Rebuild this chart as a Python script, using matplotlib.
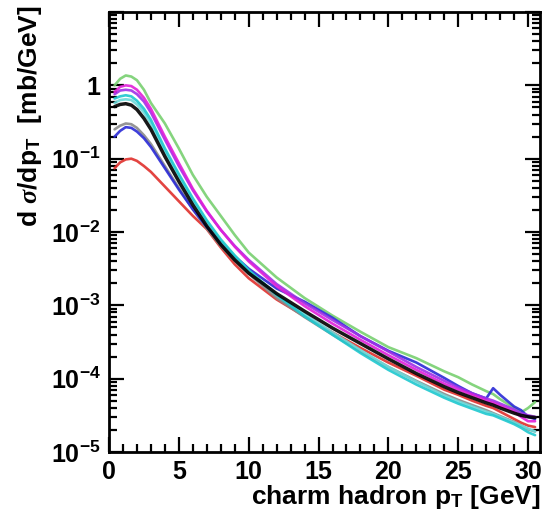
import numpy as np
import matplotlib
matplotlib.use('Agg')
import matplotlib.pyplot as plt
from matplotlib.ticker import FixedLocator, MultipleLocator, LogLocator, NullFormatter, FuncFormatter

plt.rcParams['font.family'] = ['Liberation Sans', 'DejaVu Sans']
plt.rcParams['font.weight'] = 'bold'
plt.rcParams['mathtext.fontset'] = 'custom'
plt.rcParams['mathtext.rm'] = 'Liberation Sans:bold'
plt.rcParams['mathtext.bf'] = 'Liberation Sans:bold'
plt.rcParams['mathtext.it'] = 'Liberation Serif:italic'

# charm hadron pT (GeV)
pt = [0.4, 0.8, 1.2, 1.6, 2.0, 2.5, 3, 4, 5, 6, 7, 8, 9, 10, 12, 14, 16, 18, 20,
      22, 24, 25, 26, 27, 27.5, 28, 29, 29.5, 30, 30.5]

# log10 of dsigma/dpT [mb/GeV]
green_log = [0.0, 0.09, 0.135, 0.12, 0.07, -0.06, -0.24, -0.52, -0.86, -1.22, -1.52, -1.78, -2.04, -2.28,
             -2.62, -2.9, -3.14, -3.36, -3.57, -3.72, -3.9, -3.98, -4.08, -4.17, -4.21, -4.28, -4.4,
             -4.46, -4.4, -4.32]
magenta_log = [-0.09, -0.02, 0.0, -0.01, -0.06, -0.17, -0.32, -0.7, -1.06, -1.41, -1.71, -1.97, -2.2,
               -2.4, -2.74, -3.01, -3.25, -3.47, -3.68, -3.88, -4.07, -4.15, -4.22, -4.3, -4.33, -4.37,
               -4.45, -4.52, -4.58, -4.58]
violet_log = [-0.12, -0.07, -0.06, -0.07, -0.12, -0.22, -0.37, -0.74, -1.1, -1.43, -1.72, -1.97, -2.19,
              -2.38, -2.71, -2.97, -3.2, -3.42, -3.63, -3.84, -4.03, -4.12, -4.2, -4.27, -4.3, -4.34,
              -4.42, -4.47, -4.5, -4.52]
cyan_log = [-0.18, -0.15, -0.135, -0.15, -0.21, -0.32, -0.47, -0.86, -1.21, -1.54, -1.84, -2.1, -2.32,
            -2.52, -2.86, -3.15, -3.4, -3.65, -3.88, -4.08, -4.26, -4.34, -4.41, -4.48, -4.5, -4.54,
            -4.62, -4.67, -4.73, -4.77]
teal_log = [-0.24, -0.2, -0.19, -0.2, -0.26, -0.37, -0.52, -0.9, -1.24, -1.57, -1.86, -2.12, -2.33,
            -2.53, -2.85, -3.12, -3.37, -3.61, -3.84, -4.04, -4.23, -4.31, -4.38, -4.45, -4.48, -4.52,
            -4.6, -4.64, -4.68, -4.72]
black_log = [-0.29, -0.26, -0.25, -0.27, -0.33, -0.45, -0.6, -0.97, -1.31, -1.63, -1.92, -2.17, -2.38,
             -2.56, -2.84, -3.08, -3.31, -3.52, -3.73, -3.93, -4.11, -4.19, -4.26, -4.33, -4.36, -4.4,
             -4.47, -4.5, -4.52, -4.53]
grey_log = [-0.6, -0.55, -0.52, -0.53, -0.58, -0.68, -0.8, -1.1, -1.4, -1.69, -1.95, -2.19, -2.39,
            -2.57, -2.9, -3.16, -3.4, -3.63, -3.84, -4.03, -4.21, -4.29, -4.36, -4.43, -4.47, -4.51,
            -4.59, -4.64, -4.69, -4.72]
blue_log = [-0.7, -0.62, -0.57, -0.58, -0.63, -0.72, -0.84, -1.13, -1.42, -1.69, -1.93, -2.14, -2.33,
            -2.5, -2.77, -2.95, -3.17, -3.42, -3.62, -3.78, -3.99, -4.1, -4.2, -4.27, -4.13, -4.22,
            -4.38, -4.43, -4.52, -4.55]
red_log = [-1.13, -1.05, -1.01, -1.0, -1.03, -1.1, -1.18, -1.38, -1.58, -1.78, -1.96, -2.21, -2.44,
           -2.63, -2.92, -3.15, -3.37, -3.58, -3.78, -3.96, -4.15, -4.22, -4.3, -4.37, -4.4, -4.45,
           -4.55, -4.6, -4.64, -4.66]

curves = [
    (green_log, '#78d070', 1.9),
    (red_log, '#e0302c', 1.9),
    (grey_log, '#8a8a8a', 1.9),
    (blue_log, '#2a2ad6', 1.9),
    (teal_log, '#6cdada', 1.9),
    (cyan_log, '#1ec8cf', 1.9),
    (violet_log, '#a030e8', 1.9),
    (magenta_log, '#e020d8', 1.9),
    (black_log, '#000000', 2.5),
]

fig = plt.figure(figsize=(5.45, 5.14), dpi=100)
ax = fig.add_axes([0.2, 0.1206, 0.791, 0.856])

for vals, col, lw in curves:
    ax.plot(pt, 10.0 ** np.array(vals), color=col, lw=lw, alpha=0.9, solid_capstyle='round')

ax.set_yscale('log')
ax.set_xlim(0, 30.86)
ax.set_ylim(1e-5, 10)

ax.xaxis.set_major_locator(MultipleLocator(5))
ax.xaxis.set_minor_locator(MultipleLocator(1))
ax.yaxis.set_major_locator(FixedLocator([1e-5, 1e-4, 1e-3, 1e-2, 1e-1, 1, 10]))
ax.yaxis.set_minor_locator(LogLocator(base=10, subs=np.arange(2, 10), numticks=20))
ax.yaxis.set_minor_formatter(NullFormatter())


def ylab(v, pos):
    if v >= 10:
        return ''
    if abs(v - 1) < 1e-9:
        return '1'
    e = int(round(np.log10(v)))
    return r'$\mathbf{10^{%d}}$' % e


ax.yaxis.set_major_formatter(FuncFormatter(ylab))

ax.tick_params(which='both', direction='in', top=True, right=True, width=1.6, labelsize=18)
ax.tick_params(which='major', length=11, pad=6)
ax.tick_params(which='minor', length=6)
for s in ax.spines.values():
    s.set_linewidth(2)

ax.set_xlabel(r'charm hadron p$_\mathregular{T}$ [GeV]', fontsize=19, fontweight='bold', ha='right', x=1.0)
ax.set_ylabel(r'd $\sigma$/dp$_\mathregular{T}$  [mb/GeV]', fontsize=19, fontweight='bold', ha='right', y=1.0)
ax.yaxis.set_label_coords(-0.15, 1.015)
ax.xaxis.set_label_coords(1.0, -0.07)

fig.savefig('out.png', dpi=100)
